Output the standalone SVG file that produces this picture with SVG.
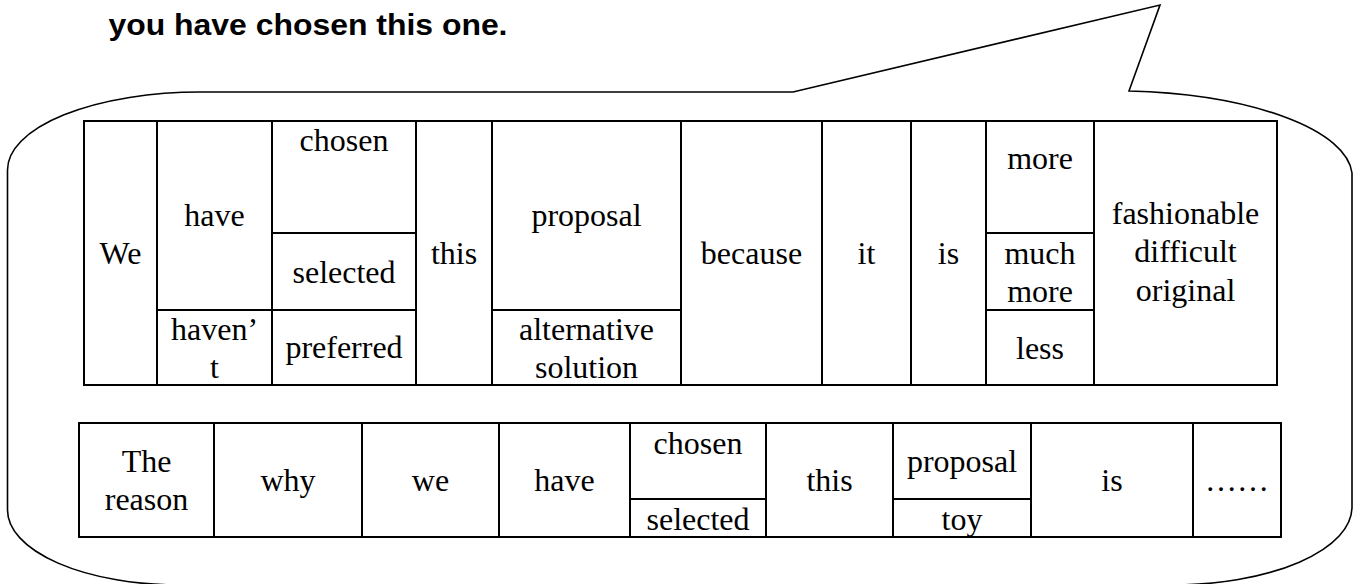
<svg xmlns="http://www.w3.org/2000/svg" width="1359" height="584" viewBox="0 0 1359 584">
  <style>
    .cell { fill: #ffffff; stroke: #000000; stroke-width: 2; }
    .word { font-family: "Liberation Serif", "Times New Roman", serif; font-size: 32px; fill: #000000; text-anchor: middle; }
    .caption { font-family: "Liberation Sans", Arial, sans-serif; font-size: 29px; font-weight: bold; fill: #000000; }
    .bubble { fill: #ffffff; stroke: #000000; stroke-width: 1.6; }
  </style>
  <rect width="1359" height="584" fill="#ffffff"/>

  <text id="caption" class="caption" x="108.5" y="35" textLength="399" lengthAdjust="spacingAndGlyphs">you have chosen this one.</text>

  <!-- speech bubble around both sentence tables -->
  <g id="connectors">
    <path class="bubble" d="M 200.5,92 L 793,92 L 1160,5 L 1129,91 A 240,86 0 0 1 1352,173 L 1352,507 A 180,78 0 0 1 1172,585 L 180,585 A 172,75 0 0 1 7.5,510 L 7.5,170 A 193,78 0 0 1 200.5,92 Z"/>
  </g>

  <!-- first sentence frame -->
  <g id="table-1">
    <g id="t1-we"><rect class="cell" x="84" y="121" width="73" height="264"/><text class="word" x="120.5" y="264">We</text></g>
    <g id="t1-have"><rect class="cell" x="157" y="121" width="115" height="189"/><text class="word" x="214.5" y="226">have</text></g>
    <g id="t1-havent"><rect class="cell" x="157" y="310" width="115" height="75"/><text class="word" x="214.5" y="339.5">haven’</text><text class="word" x="214.5" y="378">t</text></g>
    <g id="t1-chosen"><rect class="cell" x="272" y="121" width="144" height="112"/><text class="word" x="344" y="151">chosen</text></g>
    <g id="t1-selected"><rect class="cell" x="272" y="233" width="144" height="77"/><text class="word" x="344" y="282.5">selected</text></g>
    <g id="t1-preferred"><rect class="cell" x="272" y="310" width="144" height="75"/><text class="word" x="344" y="358">preferred</text></g>
    <g id="t1-this"><rect class="cell" x="416" y="121" width="76" height="264"/><text class="word" x="454" y="264">this</text></g>
    <g id="t1-proposal"><rect class="cell" x="492" y="121" width="189" height="189"/><text class="word" x="586.5" y="226">proposal</text></g>
    <g id="t1-alternative"><rect class="cell" x="492" y="310" width="189" height="75"/><text class="word" x="586.5" y="339.5">alternative</text><text class="word" x="586.5" y="378">solution</text></g>
    <g id="t1-because"><rect class="cell" x="681" y="121" width="141" height="264"/><text class="word" x="751.5" y="264">because</text></g>
    <g id="t1-it"><rect class="cell" x="822" y="121" width="89" height="264"/><text class="word" x="866.5" y="264">it</text></g>
    <g id="t1-is"><rect class="cell" x="911" y="121" width="75" height="264"/><text class="word" x="948.5" y="264">is</text></g>
    <g id="t1-more"><rect class="cell" x="986" y="121" width="108" height="112"/><text class="word" x="1040" y="169">more</text></g>
    <g id="t1-muchmore"><rect class="cell" x="986" y="233" width="108" height="77"/><text class="word" x="1040" y="263.5">much</text><text class="word" x="1040" y="302">more</text></g>
    <g id="t1-less"><rect class="cell" x="986" y="310" width="108" height="75"/><text class="word" x="1040" y="358.5">less</text></g>
    <g id="t1-adjectives"><rect class="cell" x="1094" y="121" width="183" height="264"/><text class="word" x="1185.5" y="223.5">fashionable</text><text class="word" x="1185.5" y="262">difficult</text><text class="word" x="1185.5" y="300.5">original</text></g>
  </g>

  <!-- second sentence frame -->
  <g id="table-2">
    <g id="t2-reason"><rect class="cell" x="79" y="423" width="135" height="114"/><text class="word" x="146.5" y="472">The</text><text class="word" x="146.5" y="510">reason</text></g>
    <g id="t2-why"><rect class="cell" x="214" y="423" width="148" height="114"/><text class="word" x="288" y="490.5">why</text></g>
    <g id="t2-we"><rect class="cell" x="362" y="423" width="137" height="114"/><text class="word" x="430.5" y="490.5">we</text></g>
    <g id="t2-have"><rect class="cell" x="499" y="423" width="131" height="114"/><text class="word" x="564.5" y="490.5">have</text></g>
    <g id="t2-chosen"><rect class="cell" x="630" y="423" width="136" height="76"/><text class="word" x="698" y="453.5">chosen</text></g>
    <g id="t2-selected"><rect class="cell" x="630" y="499" width="136" height="38"/><text class="word" x="698" y="529.5">selected</text></g>
    <g id="t2-this"><rect class="cell" x="766" y="423" width="127" height="114"/><text class="word" x="829.5" y="490.5">this</text></g>
    <g id="t2-proposal"><rect class="cell" x="893" y="423" width="138" height="76"/><text class="word" x="962" y="472">proposal</text></g>
    <g id="t2-toy"><rect class="cell" x="893" y="499" width="138" height="38"/><text class="word" x="962" y="529.5">toy</text></g>
    <g id="t2-is"><rect class="cell" x="1031" y="423" width="162" height="114"/><text class="word" x="1112" y="490.5">is</text></g>
    <g id="t2-etc"><rect class="cell" x="1193" y="423" width="88" height="114"/><text class="word" x="1237" y="490.5">……</text></g>
  </g>
</svg>
